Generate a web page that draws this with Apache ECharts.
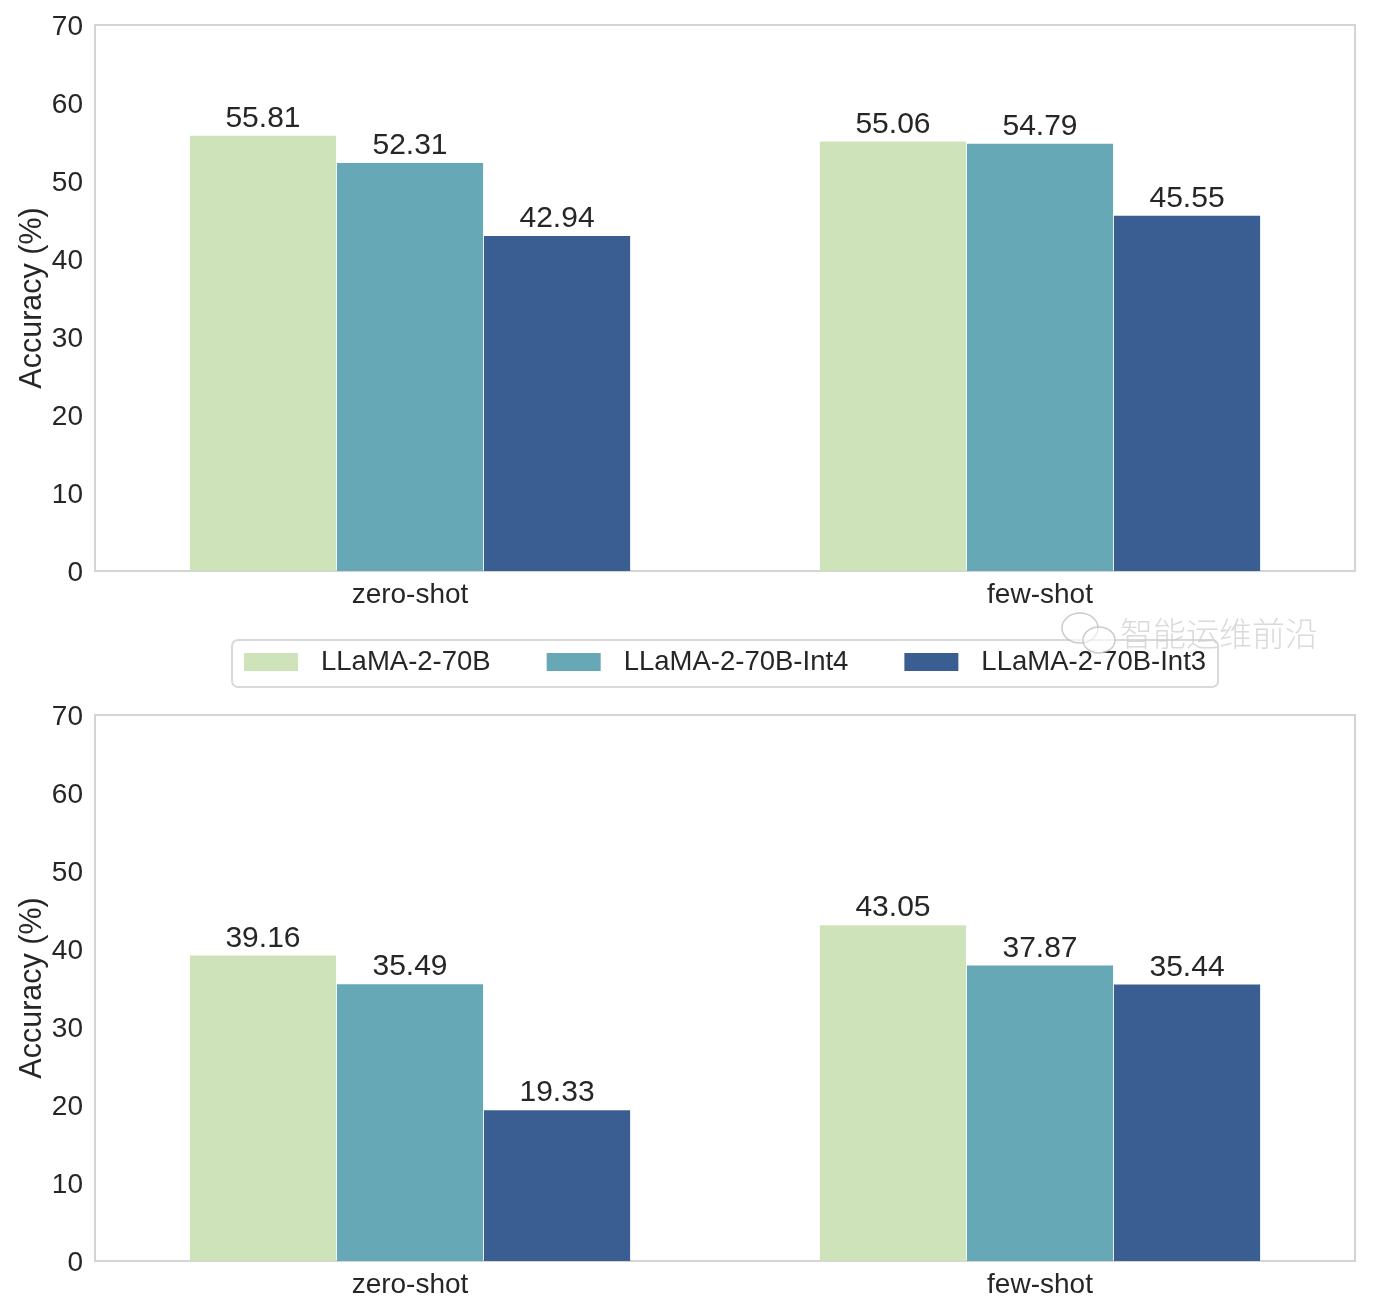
<!DOCTYPE html>
<html><head><meta charset="utf-8">
<script src="https://cdn.jsdelivr.net/npm/echarts@6/dist/echarts.min.js"></script>
<style>html,body{margin:0;padding:0;background:#fff}#c{width:1386px;height:1304px}</style>
</head><body><div id="c"></div>
<script>
const categories = ['zero-shot','few-shot'];
const seriesNames = ['LLaMA-2-70B','LLaMA-2-70B-Int4','LLaMA-2-70B-Int3'];
const colors = ['#cfe3bb','#66a8b5','#3b5e92'];
const topA = [55.81,55.06];
const topB = [52.31,54.79];
const topC = [42.94,45.55];
const botA = [39.16,43.05];
const botB = [35.49,37.87];
const botC = [19.33,35.44];
const yTicks = {min:0,max:70,interval:10};
const font = '"Liberation Sans", Arial, sans-serif';
const grids = [{left:95,top:25,width:1260,height:546},{left:95,top:715,width:1260,height:546}];
function xAxis(i){return {gridIndex:i,type:'category',data:categories,
  axisLine:{show:false},axisTick:{show:false},splitLine:{show:false},
  axisLabel:{color:'#262626',fontSize:28,fontFamily:font,margin:10}};}
function yAxis(i){return {gridIndex:i,type:'value',min:yTicks.min,max:yTicks.max,interval:yTicks.interval,
  name:'Accuracy (%)',nameLocation:'middle',nameGap:62,nameMoveOverlap:false,
  nameTextStyle:{color:'#262626',fontSize:30.5,fontFamily:font,verticalAlign:'middle'},
  axisLine:{show:false},axisTick:{show:false},splitLine:{show:false},
  axisLabel:{margin:12,formatter:v=>'{a|'+v+'}',
    rich:{a:{color:'#262626',fontSize:28,fontFamily:font,padding:[4,0,0,0]}}}};}
function bar(name,data,i,c){return {type:'bar',name,data,xAxisIndex:i,yAxisIndex:i,barWidth:'23.2%',barGap:'0.6%',
  itemStyle:{color:c},
  label:{show:true,position:'top',distance:2,color:'#262626',fontSize:30,fontFamily:font,formatter:p=>p.value.toFixed(2)}};}
const wmStroke = 'rgba(190,190,190,0.8)';
const chart = echarts.init(document.getElementById('c'),null,{renderer:'canvas'});
chart.setOption({
  animation:false,backgroundColor:'#fff',
  grid:grids.map(g=>({...g,show:true,borderColor:'#d4d4d4',borderWidth:2,backgroundColor:'transparent'})),
  xAxis:[xAxis(0),xAxis(1)],
  yAxis:[yAxis(0),yAxis(1)],
  legend:{data:seriesNames,left:232,top:640,width:986,padding:[8,12,11,12],itemGap:56,itemWidth:54,itemHeight:18,
    borderColor:'#d9d9d9',borderWidth:2,borderRadius:6,
    textStyle:{color:'#262626',fontSize:27.5,fontFamily:font,padding:[0,0,0,18]},icon:'rect'},
  graphic:[
    {type:'ellipse',silent:true,z:50,shape:{cx:1080,cy:628,rx:18,ry:15},style:{fill:'rgba(255,255,255,0.6)',stroke:wmStroke,lineWidth:1.5}},
    {type:'ellipse',silent:true,z:51,shape:{cx:1099,cy:640,rx:16,ry:13},style:{fill:'rgba(255,255,255,0.6)',stroke:wmStroke,lineWidth:1.5}},
    {type:'text',left:1120,top:617,silent:true,z:52,style:{text:'智能运维前沿',fill:'rgba(205,205,205,0.75)',font:'200 33px "Noto Sans CJK SC"'}}
  ],
  series:[bar(seriesNames[0],topA,0,colors[0]),bar(seriesNames[1],topB,0,colors[1]),bar(seriesNames[2],topC,0,colors[2]),
          bar(seriesNames[0],botA,1,colors[0]),bar(seriesNames[1],botB,1,colors[1]),bar(seriesNames[2],botC,1,colors[2])]
});
</script></body></html>
